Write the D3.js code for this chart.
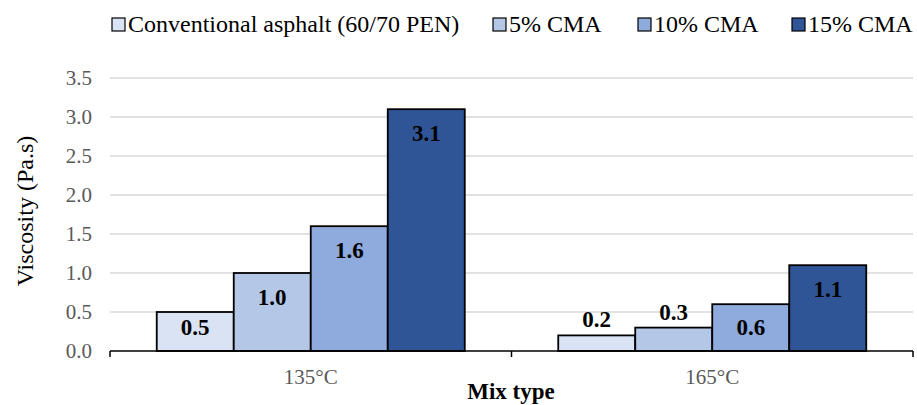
<!DOCTYPE html>
<html>
<head>
<meta charset="utf-8">
<script src="https://cdn.jsdelivr.net/npm/d3@7"></script>
<style>
  body { margin: 0; background: #fff; }
  text { font-family: "Liberation Serif", "Times New Roman", serif; }
</style>
</head>
<body>
<div id="chart"></div>
<script>
// Chart data
var categories = ["135°C", "165°C"];
var seriesNames = ["Conventional asphalt (60/70 PEN)", "5% CMA", "10% CMA", "15% CMA"];
var seriesColors = ["#dae3f3", "#b4c7e7", "#8faadc", "#2f5597"];
var values135 = [0.5, 1.0, 1.6, 3.1];
var values165 = [0.2, 0.3, 0.6, 1.1];
var yTicks = [0, 0.5, 1.0, 1.5, 2.0, 2.5, 3.0, 3.5];

var svg_width = 917;
var svg_height = 405;
var plotLeft = 110, plotRight = 913, plotTop = 78, plotBottom = 351;

var svg = d3.select("#chart").append("svg")
  .attr("width", svg_width)
  .attr("height", svg_height);

var rows = categories.map(function(c, i) {
  return { cat: c, vals: [values135, values165][i] };
});

var x0 = d3.scaleBand().domain(categories).range([plotLeft, plotRight]).paddingInner(0).paddingOuter(0);
var x1 = d3.scaleBand().domain(d3.range(seriesNames.length)).range([0, x0.bandwidth()]).paddingInner(0).paddingOuter(0.607);
var y = d3.scaleLinear().domain([0, 3.5]).range([plotBottom, plotTop]);

// gridlines
svg.selectAll("line.grid")
  .data(yTicks.slice(1))
  .enter()
  .append("line")
  .attr("x1", plotLeft)
  .attr("x2", plotRight)
  .attr("y1", function(d) { return y(d); })
  .attr("y2", function(d) { return y(d); })
  .attr("stroke", "#d9d9d9")
  .attr("stroke-width", 1.3);

// y tick labels
svg.selectAll("text.ytick")
  .data(yTicks)
  .enter()
  .append("text")
  .text(function(d) { return d.toFixed(1); })
  .attr("x", 92)
  .attr("y", function(d) { return y(d) + 7; })
  .attr("text-anchor", "end")
  .attr("font-size", "21px")
  .attr("fill", "#595959");

// bars
var groups = svg.selectAll("g.cat")
  .data(rows)
  .enter()
  .append("g")
  .attr("transform", function(d) { return "translate(" + x0(d.cat) + ",0)"; });

groups.selectAll("rect")
  .data(function(d) { return d.vals; })
  .enter()
  .append("rect")
  .attr("x", function(d, i) { return x1(i); })
  .attr("y", function(d) { return y(d); })
  .attr("width", x1.bandwidth())
  .attr("height", function(d) { return plotBottom - y(d); })
  .attr("fill", function(d, i) { return seriesColors[i]; })
  .attr("stroke", "#000")
  .attr("stroke-width", 1.8);

// value labels: inside the bar top, or above it when the bar is too short
groups.selectAll("text")
  .data(function(d) { return d.vals; })
  .enter()
  .append("text")
  .text(function(d) { return d.toFixed(1); })
  .attr("x", function(d, i) { return x1(i) + x1.bandwidth() / 2; })
  .attr("y", function(d) {
    if (d < 0.4) return y(d) - 8;
    return Math.min(y(d) + 32, plotBottom - 16);
  })
  .attr("text-anchor", "middle")
  .attr("font-size", "23px")
  .attr("font-weight", "bold")
  .attr("fill", "#000");

// x axis line and ticks
svg.append("line")
  .attr("x1", plotLeft).attr("x2", plotRight)
  .attr("y1", plotBottom).attr("y2", plotBottom)
  .attr("stroke", "#000").attr("stroke-width", 1.5);

svg.selectAll("line.xtick")
  .data([plotLeft, x0(categories[1]), plotRight])
  .enter()
  .append("line")
  .attr("x1", function(d) { return d; })
  .attr("x2", function(d) { return d; })
  .attr("y1", plotBottom)
  .attr("y2", plotBottom + 6)
  .attr("stroke", "#000")
  .attr("stroke-width", 1.5);

// category labels
svg.selectAll("text.cat")
  .data(categories)
  .enter()
  .append("text")
  .text(function(d) { return d; })
  .attr("x", function(d) { return x0(d) + x0.bandwidth() / 2; })
  .attr("y", 384)
  .attr("text-anchor", "middle")
  .attr("font-size", "21px")
  .attr("fill", "#595959");

// axis titles
svg.append("text")
  .text("Mix type")
  .attr("x", 511)
  .attr("y", 399)
  .attr("text-anchor", "middle")
  .attr("font-size", "23px")
  .attr("font-weight", "bold");

svg.append("text")
  .text("Viscosity (Pa.s)")
  .attr("transform", "translate(33,211) rotate(-90)")
  .attr("text-anchor", "middle")
  .attr("font-size", "24px");

// legend
var legendX = [112, 493, 638, 792];
var leg = svg.selectAll("g.leg")
  .data(seriesNames)
  .enter()
  .append("g")
  .attr("transform", function(d, i) { return "translate(" + legendX[i] + ",18)"; });

leg.append("rect")
  .attr("x", 0).attr("y", 0)
  .attr("width", 13).attr("height", 13)
  .attr("fill", function(d, i) { return seriesColors[i]; })
  .attr("stroke", "#000")
  .attr("stroke-width", 1.2);

leg.append("text")
  .text(function(d) { return d; })
  .attr("x", 16)
  .attr("y", 14)
  .attr("font-size", "24px")
  .attr("fill", "#000");
</script>
</body>
</html>
